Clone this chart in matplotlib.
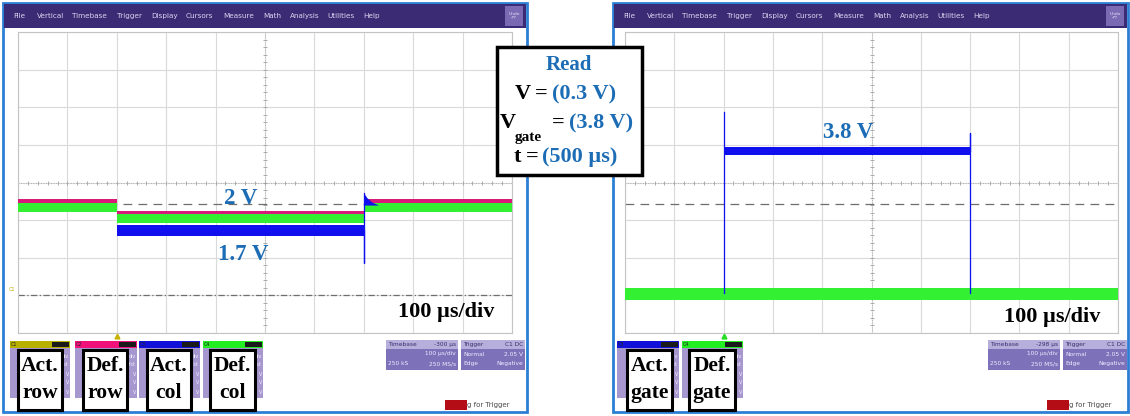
import numpy as np
import matplotlib.pyplot as plt
from matplotlib.patches import Rectangle

W, H = 1130, 416

# scope screen units: time in us (10 div x 100 us/div), level in divisions (8 div)
row_t = [0, 200, 200, 700, 700, 1000]
act_row = [3.36, 3.36, 3.06, 3.06, 3.36, 3.36]
def_row = [3.50, 3.50, 3.20, 3.20, 3.50, 3.50]
act_col = [3.38, 3.38, 2.73, 2.73, 3.38, 3.38]
def_col = [3.36, 3.36, 3.06, 3.06, 3.36, 3.36]
col_kick_t = [700, 700, 700]
col_kick = [2.73, 1.86, 3.72]
col_tail_t = [700, 706, 716, 730]
col_tail = [3.72, 3.60, 3.48, 3.40]

gate_t = [0, 200, 200, 700, 700, 1000]
act_gate = [1.05, 1.05, 4.84, 4.84, 1.05, 1.05]
def_gate = [1.04, 1.04, 1.04, 1.04, 1.04, 1.04]
gate_rise_t = [200, 200]
gate_rise = [1.05, 5.88]
gate_fall_t = [700, 700, 700]
gate_fall = [4.84, 5.32, 1.05]

trig_level = 3.43
c1_ground = 1.01

menu_items = ["File", "Vertical", "Timebase", "Trigger", "Display", "Cursors",
              "Measure", "Math", "Analysis", "Utilities", "Help"]
menu_x = [13, 37, 72, 117, 151, 186, 223, 263, 290, 327, 363]

BLUE = "#1010ee"
GREEN = "#33f033"
PINK = "#d81b7a"
YELLOW = "#b8b000"
LBL = "#1c6db5"
SERIF = "Liberation Serif"

fig = plt.figure(figsize=(W / 100, H / 100), dpi=100)
under = fig.add_axes([0, 0, 1, 1])
under.set_xlim(0, W)
under.set_ylim(H, 0)
under.axis("off")


def rect(ax, x0, y0, x1, y1, **kw):
    ax.add_patch(Rectangle((x0, y0), x1 - x0, y1 - y0, **kw))


def panel(x0, x1, tb_x, tb_text, wait_x):
    # window frame + menu
    rect(under, x0, 3, x1, 412, facecolor="white", edgecolor="#2b7fd4", lw=2)
    rect(under, x0 + 1, 4, x1 - 1, 28, facecolor="#3b2b74", lw=0)
    for name, mx in zip(menu_items, menu_x):
        under.text(x0 + mx - 3, 16, name, fontsize=5.2, color="#d9d4ef",
                   va="center", ha="left")
    rect(under, x1 - 22, 6, x1 - 4, 26, facecolor="#7a6ab4", lw=0)
    under.text(x1 - 13, 16, "Undo\n\u21b6?", fontsize=3.2, color="#e6e0f6",
               ha="center", va="center", linespacing=0.9)
    # timebase / trigger boxes
    for bx, bw, lines in [(tb_x, 72, [("Timebase", tb_text), ("", "100 \u00b5s/div"), ("250 kS", "250 MS/s")]),
                          (tb_x + 75, 64, [("Trigger", "C1 DC"), ("Normal", "2.05 V"), ("Edge", "Negative")])]:
        rect(under, bx, 340, bx + bw, 370, facecolor="#7d71b9", lw=0)
        rect(under, bx, 340, bx + bw, 349, facecolor="#b6aedb", lw=0)
        for i, (a, b) in enumerate(lines):
            yy = 344.5 + i * 9.5
            c = "#3a2f6c" if i == 0 else "#f0ecff"
            under.text(bx + 2, yy, a, fontsize=4.2, color=c, va="center")
            under.text(bx + bw - 2, yy, b, fontsize=4.2, color=c, va="center", ha="right")
    rect(under, wait_x, 400, wait_x + 22, 410, facecolor="#b50d16", lw=0)
    under.text(wait_x + 22, 405, "g for Trigger", fontsize=5, color="#4a4a4a", va="center")


def descriptor(x0, x1, color, name):
    rect(under, x0, 341, x1, 398, facecolor="#a797cf", lw=0)
    rect(under, x0, 341, x1, 348, facecolor=color, lw=0)
    rect(under, x1 - 18, 342, x1 - 1, 347, facecolor="#1a1a1a", lw=0)
    under.text(x0 + 1, 344.5, name, fontsize=3.5, color="#222222", va="center")
    for i, s in enumerate(["div", "ofst", "V", "V", "V"]):
        under.text(x1 - 1, 356 + i * 9, s, fontsize=3.4, color="#f3f0ff",
                   ha="right", va="center")


panel(3, 527, 386, "-300 \u00b5s", 445)
panel(613, 1128, 988, "-298 \u00b5s", 1047)
for x0, x1, c, n in [(10, 70, YELLOW, "C1"), (75, 137, "#f0127a", "C2"),
                     (139, 200, "#1010d8", "C3"), (203, 263, "#22ee22", "C4"),
                     (617, 679, "#1010d8", "C3"), (682, 743, "#22ee22", "C4")]:
    descriptor(x0, x1, c, n)
under.plot([117], [336], marker="^", color="#c8b400", ms=3.5)
under.plot([724], [336], marker="^", color="#22dd22", ms=3.5)


def scope(x0, x1, y0, y1):
    ax = fig.add_axes([x0 / W, 1 - y1 / H, (x1 - x0) / W, (y1 - y0) / H])
    ax.set_xlim(0, 1000)
    ax.set_ylim(0, 8)
    ax.set_xticks(np.arange(0, 1001, 100))
    ax.set_yticks(np.arange(0, 9, 1))
    ax.grid(True, color="#dadada", lw=0.8)
    ax.tick_params(length=0, labelbottom=False, labelleft=False)
    for s in ax.spines.values():
        s.set_color("#c4c4c4")
        s.set_linewidth(0.8)
    # centre cross with small ticks
    ax.axhline(4, color="#a8a8a8", lw=0.6, ls=(0, (1, 2)))
    ax.axvline(500, color="#a8a8a8", lw=0.6, ls=(0, (1, 2)))
    ax.plot(np.arange(20, 1000, 20), [4] * 49, ls="none", marker="|",
            color="#a0a0a0", ms=3, mew=0.6)
    ax.plot([500] * 39, np.arange(0.2, 8, 0.2), ls="none", marker="_",
            color="#a0a0a0", ms=3, mew=0.6)
    ax.axhline(trig_level, color="#6e6e6e", lw=0.9, ls=(0, (7, 5)))
    return ax


def band(ax, t, y, half, color, z):
    y = np.asarray(y)
    ax.fill_between(t, y - half, y + half, color=color, lw=0, zorder=z)


# left scope: row / column signals
axl = scope(18, 512, 32, 333)
axl.axhline(c1_ground, color="#6e6e6e", lw=0.9, ls=(0, (5, 2, 1, 2)))
band(axl, row_t, act_row, 0.10, YELLOW, 3)
band(axl, row_t, act_col, 0.15, BLUE, 4)
band(axl, row_t, def_col, 0.14, GREEN, 5)
band(axl, row_t, def_row, 0.05, PINK, 6)
axl.plot(col_kick_t, col_kick, color=BLUE, lw=0.9, zorder=7)
axl.fill_between(col_tail_t, [3.40] * 4, col_tail, color=BLUE, lw=0, zorder=7)
axl.text(-6, c1_ground + 0.1, "C1", fontsize=3.5, color=YELLOW, ha="right",
         clip_on=False)

# right scope: gate signals
axr = scope(625, 1118, 32, 333)
band(axr, gate_t, act_gate, 0.11, BLUE, 4)
band(axr, gate_t, def_gate, 0.15, GREEN, 5)
axr.plot(gate_rise_t, gate_rise, color=BLUE, lw=0.9, zorder=6)
axr.plot(gate_fall_t, gate_fall, color=BLUE, lw=0.9, zorder=6)

# overlay annotations
over = fig.add_axes([0, 0, 1, 1])
over.set_xlim(0, W)
over.set_ylim(H, 0)
over.axis("off")
over.patch.set_alpha(0)

tkw = dict(fontfamily=SERIF, fontweight="bold", va="center")
over.text(241, 198, "2 V", color=LBL, fontsize=16.5, ha="center", **tkw)
over.text(243, 255, "1.7 V", color=LBL, fontsize=16.5, ha="center", **tkw)
over.text(848, 132, "3.8 V", color=LBL, fontsize=16.5, ha="center", **tkw)
over.text(446, 312, "100 \u00b5s/div", color="black", fontsize=16, ha="center", **tkw)
over.text(1052, 317, "100 \u00b5s/div", color="black", fontsize=16, ha="center", **tkw)

# channel name boxes
for x0, x1, a, b in [(18, 62, "Act.", "row"), (83, 127, "Def.", "row"),
                     (147, 191, "Act.", "col"), (210, 255, "Def.", "col"),
                     (627, 672, "Act.", "gate"), (689, 735, "Def.", "gate")]:
    rect(over, x0, 350, x1, 410, facecolor="white", edgecolor="black", lw=2.2)
    over.text((x0 + x1) / 2, 366, a, color="black", fontsize=15.5, ha="center", **tkw)
    over.text((x0 + x1) / 2, 393, b, color="black", fontsize=15.5, ha="center", **tkw)

# read conditions box
rect(over, 497, 47, 642, 175, facecolor="white", edgecolor="black", lw=2.5)
over.text(569, 65, "Read", color=LBL, fontsize=15, ha="center", **tkw)
renderer = fig.canvas.get_renderer()


def rich(x, y, parts):
    for s, c in parts:
        t = over.text(x, y, s, color=c, fontsize=16, ha="left", **tkw)
        x += t.get_window_extent(renderer).width + 4


rich(515, 94, [("V", "black"), ("=", "black"), ("(0.3 V)", LBL)])
rich(500, 123, [("V", "black")])
over.text(515, 138, "gate", color="black", fontsize=11, ha="left", **tkw)
rich(552, 123, [("=", "black"), ("(3.8 V)", LBL)])
rich(514, 157, [("t", "black"), ("=", "black"), ("(500 \u00b5s)", LBL)])

fig.savefig("out.png", dpi=100)
